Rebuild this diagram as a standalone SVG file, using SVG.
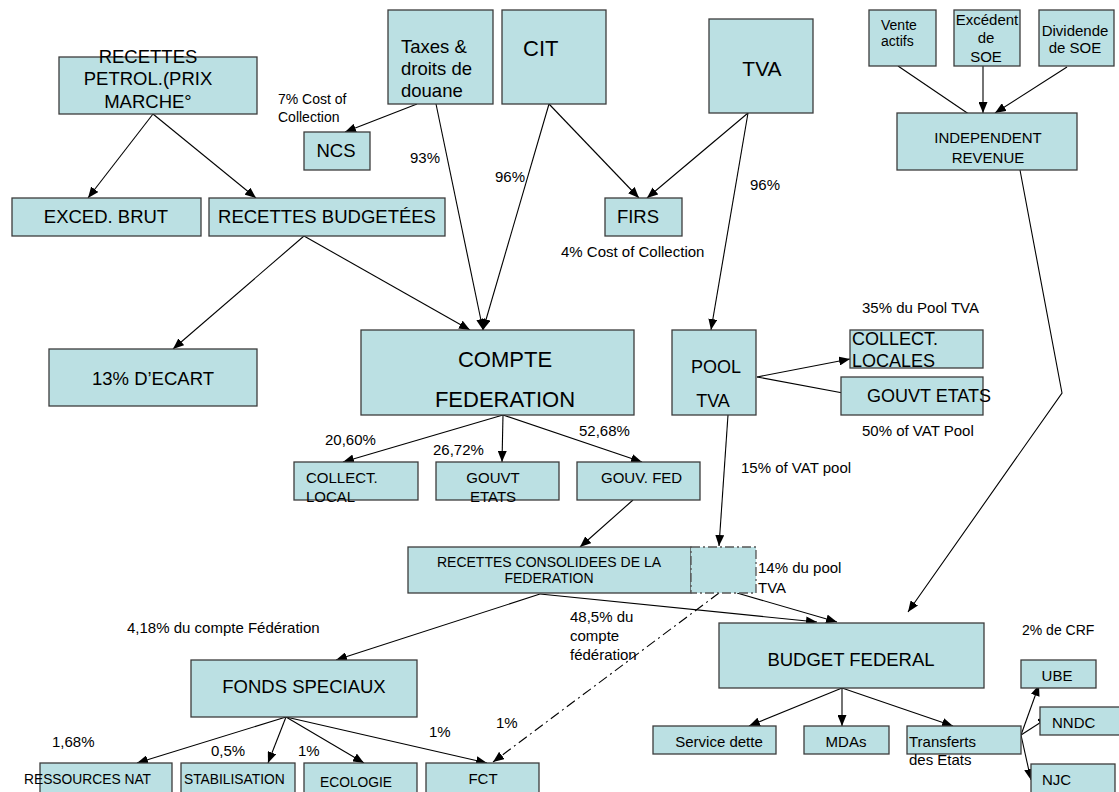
<svg xmlns="http://www.w3.org/2000/svg" width="1119" height="792" viewBox="0 0 1119 792">
<defs>
<marker id="ah" markerWidth="11" markerHeight="9" refX="11" refY="4.5" orient="auto" markerUnits="userSpaceOnUse"><path d="M0,0 L11,4.5 L0,9 z" fill="#000"/></marker>
</defs>
<style>
.b{fill:#BBE0E3;stroke:#3c3c3c;stroke-width:1.3}
.d{fill:#BBE0E3;stroke:#555;stroke-width:1.3;stroke-dasharray:9,3,2,3}
.t{font-family:"Liberation Sans",Arial,sans-serif;fill:#000}
.m{text-anchor:middle}
.s15{font-size:15px}
.s14{font-size:14px}
.s18{font-size:18.5px}
.c{stroke:#000;stroke-width:1.1;fill:none;marker-end:url(#ah)}
.dd{stroke:#000;stroke-width:1.1;fill:none;stroke-dasharray:10,4,2,4;marker-end:url(#ah)}
</style>
<rect width="1119" height="792" fill="#fff"/>
<g id="connectors">
<line class="c" x1="153" y1="114" x2="88" y2="198"/>
<line class="c" x1="153" y1="114" x2="256" y2="198"/>
<line class="c" x1="304" y1="236" x2="173" y2="349"/>
<line class="c" x1="304" y1="236" x2="470" y2="330"/>
<line class="c" x1="417" y1="104" x2="345" y2="132"/>
<line class="c" x1="436" y1="104" x2="483" y2="330"/>
<line class="c" x1="549" y1="104" x2="483" y2="330"/>
<line class="c" x1="549" y1="104" x2="639" y2="198"/>
<line class="c" x1="748" y1="113" x2="647" y2="198"/>
<line class="c" x1="748" y1="113" x2="711" y2="330"/>
<line class="c" x1="898" y1="66" x2="982" y2="123"/>
<line class="c" x1="983" y1="66" x2="983" y2="113"/>
<line class="c" x1="1067" y1="67" x2="995" y2="113"/>
<polyline class="c" points="1020,170 1062,393 908,612"/>
<line class="c" x1="757" y1="377" x2="850" y2="359"/>
<line class="c" x1="757" y1="377" x2="859" y2="396"/>
<line class="c" x1="503" y1="415" x2="343" y2="462"/>
<line class="c" x1="503" y1="415" x2="502" y2="462"/>
<line class="c" x1="503" y1="415" x2="642" y2="462"/>
<line class="c" x1="633" y1="500" x2="580" y2="547"/>
<line class="c" x1="728" y1="415" x2="719" y2="546"/>
<line class="c" x1="540" y1="594" x2="336" y2="660"/>
<line class="c" x1="540" y1="594" x2="817" y2="622"/>
<line class="c" x1="737" y1="593" x2="837" y2="622"/>
<line class="dd" x1="719" y1="593" x2="493" y2="762"/>
<line class="c" x1="286" y1="717" x2="137" y2="763"/>
<line class="c" x1="286" y1="717" x2="268" y2="763"/>
<line class="c" x1="286" y1="717" x2="364" y2="763"/>
<line class="c" x1="286" y1="717" x2="487" y2="763"/>
<line class="c" x1="842" y1="688" x2="749" y2="726"/>
<line class="c" x1="842" y1="688" x2="842" y2="726"/>
<line class="c" x1="842" y1="688" x2="953" y2="726"/>
<line class="c" x1="1021" y1="735" x2="1039" y2="685"/>
<line class="c" x1="1021" y1="735" x2="1049" y2="717"/>
<line class="c" x1="1021" y1="735" x2="1031" y2="780"/>
</g>
<g id="petrol"><rect class="b" x="59" y="57" width="198" height="57"/>
<text class="t m s18" x="148" y="63">RECETTES</text><text class="t m s18" x="148" y="85">PETROL.(PRIX</text><text class="t m s18" x="148" y="108">MARCHE°</text></g>
<g id="taxes"><rect class="b" x="388" y="10" width="105" height="94"/>
<text class="t s18" x="401" y="53">Taxes &amp;</text><text class="t s18" x="401" y="75">droits de</text><text class="t s18" x="401" y="97">douane</text></g>
<g id="cit"><rect class="b" x="502" y="10" width="104" height="94"/><text class="t" x="523" y="56" font-size="22">CIT</text></g>
<g id="tva"><rect class="b" x="709" y="19" width="104" height="94"/><text class="t m" x="762" y="76" font-size="21">TVA</text></g>
<g id="vente"><rect class="b" x="869" y="10" width="67" height="56"/><text class="t s14" x="881" y="30">Vente</text><text class="t s14" x="881" y="46">actifs</text></g>
<g id="excedent"><rect class="b" x="954" y="10" width="66" height="56"/><text class="t m s15" x="987" y="25">Excédent</text><text class="t m s15" x="986" y="43">de</text><text class="t m s15" x="986" y="62">SOE</text></g>
<g id="dividende"><rect class="b" x="1039" y="10" width="75" height="56"/><text class="t m s15" x="1075" y="36">Dividende</text><text class="t m s15" x="1075" y="53">de SOE</text></g>
<g id="indep"><rect class="b" x="897" y="113" width="180" height="57"/><text class="t m s15" x="988" y="143">INDEPENDENT</text><text class="t m s15" x="988" y="163">REVENUE</text></g>
<g id="ncs"><rect class="b" x="304" y="132" width="66" height="38"/><text class="t m s18" x="336" y="157">NCS</text></g>
<g id="lbl-ncs"><text class="t s14" x="278" y="104">7% Cost of</text><text class="t s14" x="278" y="122">Collection</text></g>
<g id="exced"><rect class="b" x="12" y="198" width="189" height="38"/><text class="t m s18" x="106" y="223">EXCED. BRUT</text></g>
<g id="recbud"><rect class="b" x="209" y="198" width="236" height="38"/><text class="t m s18" x="327" y="223">RECETTES BUDGETÉES</text></g>
<g id="firs"><rect class="b" x="605" y="198" width="77" height="38"/><text class="t m s18" x="638" y="223">FIRS</text></g>
<g id="labels-top">
<text class="t s15" x="561" y="257">4% Cost of Collection</text>
<text class="t s15" x="410" y="163">93%</text>
<text class="t s15" x="495" y="182">96%</text>
<text class="t s15" x="750" y="190">96%</text>
</g>
<g id="ecart"><rect class="b" x="49" y="349" width="208" height="57"/><text class="t m s18" x="153" y="385">13% D’ECART</text></g>
<g id="compte"><rect class="b" x="361" y="330" width="273" height="85"/><text class="t m" x="505" y="367" font-size="22">COMPTE</text><text class="t m" x="505" y="407" font-size="22">FEDERATION</text></g>
<g id="pool"><rect class="b" x="672" y="330" width="84" height="85"/><text class="t m" x="716" y="373" font-size="18">POOL</text><text class="t m" x="713" y="407" font-size="18">TVA</text></g>
<g id="collectlocales"><rect class="b" x="850" y="330" width="133" height="38"/><text class="t" x="852" y="345" font-size="18">COLLECT.</text><text class="t" x="852" y="367" font-size="18">LOCALES</text></g>
<g id="gouvtetats1"><rect class="b" x="841" y="377" width="142" height="38"/><text class="t" x="867" y="402" font-size="18">GOUVT ETATS</text></g>
<g id="labels-pool">
<text class="t s15" x="862" y="313">35% du Pool TVA</text>
<text class="t s15" x="862" y="436">50% of VAT Pool</text>
<text class="t s15" x="741" y="473">15% of VAT pool</text>
<text class="t s15" x="325" y="445">20,60%</text>
<text class="t s15" x="433" y="455">26,72%</text>
<text class="t s15" x="579" y="436">52,68%</text>
</g>
<g id="collectlocal"><rect class="b" x="294" y="462" width="124" height="38"/><text class="t s15" x="306" y="483">COLLECT.</text><text class="t s15" x="306" y="502">LOCAL</text></g>
<g id="gouvtetats2"><rect class="b" x="436" y="462" width="123" height="38"/><text class="t m s15" x="493" y="483">GOUVT</text><text class="t m s15" x="493" y="502">ETATS</text></g>
<g id="gouvfed"><rect class="b" x="577" y="462" width="123" height="38"/><text class="t s15" x="601" y="483">GOUV. FED</text></g>
<g id="rcf"><rect class="b" x="408" y="547" width="283" height="46"/><text class="t m s14" x="549" y="567">RECETTES CONSOLIDEES DE LA</text><text class="t m s14" x="549" y="583">FEDERATION</text></g>
<g id="dashedbox"><rect class="d" x="691" y="547" width="65" height="46"/></g>
<g id="labels-mid">
<text class="t s15" x="758" y="573">14% du pool</text><text class="t s15" x="758" y="593">TVA</text>
<text class="t s15" x="570" y="622">48,5% du</text><text class="t s15" x="570" y="641">compte</text><text class="t s15" x="570" y="660">fédération</text>
<text class="t s14" x="1022" y="635">2% de CRF</text>
<text class="t s15" x="127" y="633">4,18% du compte Fédération</text>
</g>
<g id="budget"><rect class="b" x="719" y="623" width="265" height="65"/><text class="t m s18" x="851" y="666">BUDGET FEDERAL</text></g>
<g id="fonds"><rect class="b" x="191" y="660" width="226" height="57"/><text class="t m s18" x="304" y="693">FONDS SPECIAUX</text></g>
<g id="service"><rect class="b" x="653" y="726" width="123" height="28"/><text class="t m s15" x="719" y="747">Service dette</text></g>
<g id="mdas"><rect class="b" x="804" y="726" width="85" height="28"/><text class="t m s15" x="846" y="747">MDAs</text></g>
<g id="transferts"><rect class="b" x="907" y="726" width="114" height="28"/><text class="t s15" x="909" y="747">Transferts</text><text class="t s15" x="909" y="765">des Etats</text></g>
<g id="ube"><rect class="b" x="1021" y="660" width="75" height="28"/><text class="t m s15" x="1057" y="681">UBE</text></g>
<g id="nndc"><rect class="b" x="1040" y="707" width="85" height="28"/><text class="t s15" x="1052" y="728">NNDC</text></g>
<g id="njc"><rect class="b" x="1031" y="764" width="84" height="36"/><text class="t s15" x="1042" y="785">NJC</text></g>
<g id="ress"><rect class="b" x="40" y="763" width="132" height="37"/><text class="t" x="24" y="784" font-size="13.8">RESSOURCES NAT</text></g>
<g id="stab"><rect class="b" x="181" y="763" width="114" height="37"/><text class="t" x="184" y="784" font-size="13.8">STABILISATION</text></g>
<g id="eco"><rect class="b" x="304" y="763" width="113" height="37"/><text class="t" x="320" y="787" font-size="13.8">ECOLOGIE</text></g>
<g id="fct"><rect class="b" x="426" y="763" width="113" height="37"/><text class="t m s15" x="483" y="784">FCT</text></g>
<g id="labels-bottom">
<text class="t s15" x="52" y="747">1,68%</text>
<text class="t s15" x="211" y="756">0,5%</text>
<text class="t s15" x="298" y="756">1%</text>
<text class="t s15" x="429" y="737">1%</text>
<text class="t s15" x="496" y="728">1%</text>
</g>
</svg>
